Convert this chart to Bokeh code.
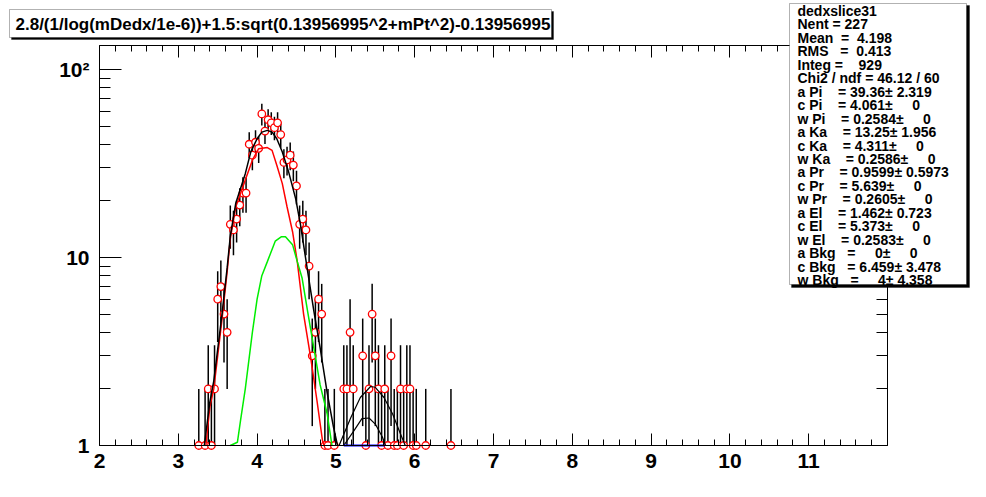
import numpy as np
from bokeh.plotting import figure
from bokeh.models import (FixedTicker, LinearAxis, LogAxis, Label, BoxAnnotation, Range1d)
from bokeh.embed import file_html
from bokeh.resources import INLINE

# ---------------- data ----------------
bin_x = [3.26, 3.34, 3.38, 3.42, 3.46, 3.50, 3.54, 3.58, 3.62, 3.66, 3.70, 3.74, 3.78, 3.82,
         3.86, 3.90, 3.94, 3.98, 4.02, 4.06, 4.10, 4.14, 4.18, 4.22, 4.26, 4.30, 4.34, 4.38,
         4.42, 4.46, 4.50, 4.54, 4.58, 4.62, 4.66, 4.70, 4.74, 4.78, 4.82, 4.86, 4.90, 4.98,
         5.10, 5.14, 5.18, 5.22, 5.34, 5.38, 5.42, 5.46, 5.50, 5.54, 5.58, 5.62, 5.66, 5.70,
         5.74, 5.78, 5.82, 5.86, 5.90, 5.94, 5.98, 6.02, 6.14, 6.46]
counts = [1, 1, 2, 1, 2, 6, 7, 5, 4, 15, 14, 16, 19, 22,
          22, 40, 35, 41, 38, 58, 47, 54, 52, 49, 52, 45, 32, 33,
          35, 31, 24, 15, 16, 14, 9, 3, 4, 6, 5, 1, 1, 1,
          2, 2, 4, 2, 3, 1, 2, 5, 3, 2, 1, 2, 1, 3,
          1, 1, 2, 1, 2, 2, 1, 1, 1, 1]

pion_x = [3.35, 3.40, 3.45, 3.55, 3.62, 3.66, 3.73, 3.85, 3.94, 4.02, 4.13, 4.19, 4.25, 4.32,
          4.38, 4.45, 4.51, 4.59, 4.68, 4.76, 4.83, 4.85]
pion_y = [1.0, 1.6, 2.0, 4.5, 8.4, 12.6, 18.6, 25.8, 32.9, 37.9, 38.4, 37.1, 30.9, 24.7,
          18.6, 13.7, 9.5, 5.0, 2.93, 1.73, 1.06, 1.0]

kaon_x = [3.66, 3.75, 3.79, 3.85, 3.94, 4.00, 4.06, 4.13, 4.23, 4.31, 4.36, 4.45, 4.51, 4.57,
          4.64, 4.72, 4.80, 4.89, 4.95]
kaon_y = [1.0, 1.04, 1.36, 2.0, 4.0, 6.0, 8.0, 9.5, 12.2, 12.9, 12.9, 11.7, 9.5, 7.8,
          5.2, 3.3, 2.1, 1.47, 1.0]

total_x = [3.33, 3.40, 3.45, 3.55, 3.62, 3.66, 3.73, 3.85, 3.92, 4.00, 4.06, 4.13, 4.19, 4.25,
           4.32, 4.40, 4.49, 4.55, 4.64, 4.72, 4.80, 4.89, 4.97, 5.02]
total_y = [1.0, 1.7, 2.2, 4.8, 8.8, 13.0, 19.5, 27.9, 36.4, 42.8, 46.4, 47.4, 46.4, 42.8,
           36.4, 28.5, 20.5, 15.0, 8.5, 5.2, 3.3, 1.9, 1.25, 1.0]

bump_x = [5.04, 5.19, 5.31, 5.44, 5.50, 5.61, 5.72, 5.82, 5.88]
bump_y = [1.0, 1.41, 1.80, 2.06, 2.04, 1.80, 1.47, 1.15, 1.0]

elec_x = [5.10, 5.23, 5.33, 5.42, 5.50, 5.59, 5.63]
elec_y = [1.0, 1.2, 1.39, 1.40, 1.30, 1.11, 1.0]

bkg_x = [5.10, 5.62]
bkg_y = [1.0, 1.0]

x_major = [2, 3, 4, 5, 6, 7, 8, 9, 10, 11]
x_minor = [round(2 + 0.2 * i, 2) for i in range(51)]
y_major = [1, 10, 100]
y_minor = [2, 3, 4, 5, 6, 7, 8, 9, 20, 30, 40, 50, 60, 70, 80, 90]
y_labels = {1: "1", 10: "10", 100: "10\u00b2"}

title_text = "2.8/(1/log(mDedx/1e-6))+1.5:sqrt(0.13956995^2+mPt^2)-0.13956995"
stats_lines = [
    "dedxslice31",
    "Nent = 227",
    "Mean  =  4.198",
    "RMS   =  0.413",
    "Integ =    929",
    "Chi2 / ndf = 46.12 / 60",
    "a Pi    = 39.36\u00b1 2.319",
    "c Pi    = 4.061\u00b1     0",
    "w Pi    = 0.2584\u00b1     0",
    "a Ka    = 13.25\u00b1 1.956",
    "c Ka    = 4.311\u00b1     0",
    "w Ka    = 0.2586\u00b1     0",
    "a Pr    = 0.9599\u00b1 0.5973",
    "c Pr    = 5.639\u00b1     0",
    "w Pr    = 0.2605\u00b1     0",
    "a El    = 1.462\u00b1 0.723",
    "c El    = 5.373\u00b1     0",
    "w El    = 0.2583\u00b1     0",
    "a Bkg   =     0\u00b1     0",
    "c Bkg   = 6.459\u00b1 3.478",
    "w Bkg   =     4\u00b1 4.358",
]

X_LO, X_HI = 2, 12
Y_LO, Y_HI = 1, 134

# ---------------- layout: the frame fills the canvas, axes sit at fixed locations ----
W, H = 986, 497
PL, PR, PT, PB = 99, 887, 45, 445     # plot-box edges in canvas pixels
kx = (PR - PL) / (X_HI - X_LO)
x_start = X_LO - PL / kx
x_end = X_HI + (W - PR) / kx
ky = (PB - PT) / (np.log10(Y_HI) - np.log10(Y_LO))
y_start = 10 ** (np.log10(Y_LO) - (H - PB) / ky)
y_end = 10 ** (np.log10(Y_HI) + PT / ky)

FONT = "Liberation Sans"
p = figure(width=W, height=H, x_range=Range1d(x_start, x_end), y_range=Range1d(y_start, y_end),
           y_axis_type="log", output_backend="svg", toolbar_location=None,
           min_border=0, min_border_left=0, min_border_right=0, min_border_top=0,
           min_border_bottom=0, background_fill_color="white", border_fill_color="white")
p.title.visible = False
p.grid.visible = False
p.outline_line_color = None

xt = FixedTicker(ticks=x_major, minor_ticks=x_minor)
yt = FixedTicker(ticks=y_major, minor_ticks=y_minor)

for ax in p.xaxis:
    ax.ticker = xt
    ax.fixed_location = Y_LO
    ax.bounds = (X_LO, X_HI)
    ax.major_tick_in = 12
    ax.major_tick_out = 0
    ax.minor_tick_in = 6
    ax.minor_tick_out = 0
    ax.axis_line_color = "black"
    ax.major_label_text_font = FONT
    ax.major_label_text_font_style = "bold"
    ax.major_label_text_font_size = "21px"
    ax.major_label_text_color = "black"
    ax.major_label_standoff = 8

for ax in p.yaxis:
    ax.ticker = yt
    ax.fixed_location = X_LO
    ax.bounds = (Y_LO, Y_HI)
    ax.major_label_overrides = y_labels
    ax.major_tick_in = 22
    ax.major_tick_out = 0
    ax.minor_tick_in = 11
    ax.minor_tick_out = 0
    ax.axis_line_color = "black"
    ax.major_label_text_font = FONT
    ax.major_label_text_font_style = "bold"
    ax.major_label_text_font_size = "21px"
    ax.major_label_text_color = "black"
    ax.major_label_standoff = 10

top_ax = LinearAxis(ticker=xt, fixed_location=Y_HI, bounds=(X_LO, X_HI),
                    major_tick_in=12, major_tick_out=0, minor_tick_in=6,
                    minor_tick_out=0, major_label_text_font_size="8px",
                    major_label_text_color=None, axis_line_color="black")
right_ax = LogAxis(ticker=yt, fixed_location=X_HI, bounds=(Y_LO, Y_HI),
                   major_tick_in=22, major_tick_out=0, minor_tick_in=11,
                   minor_tick_out=0, major_label_text_font_size="8px",
                   major_label_text_color=None, axis_line_color="black")
p.add_layout(top_ax, "above")
p.add_layout(right_ax, "right")

# ---------------- histogram ----------------
cx = np.array(bin_x)
cy = np.array(counts, dtype=float)
err = np.sqrt(cy)
lo = np.maximum(cy - err, Y_LO)
hi = cy + err
p.segment(x0=cx, y0=lo, x1=cx, y1=hi, line_color="black", line_width=1.5)
p.scatter(cx, cy, marker="circle", size=7.5, fill_color="white", line_color="red",
          line_width=1.3)

# ---------------- fit curves ----------------
p.line(pion_x, pion_y, line_color="red", line_width=1.5)
p.line(kaon_x, kaon_y, line_color="#00ee00", line_width=1.5)
p.line(total_x, total_y, line_color="black", line_width=1.5)
p.line(bump_x, bump_y, line_color="black", line_width=1.2)
p.line(elec_x, elec_y, line_color="black", line_width=1.2)
p.line(bkg_x, bkg_y, line_color="blue", line_width=2)


# ---------------- boxes (canvas pixel -> screen units of the full-canvas frame) --------
def sx(px):
    return px


def sy(py):
    return H - py


def box(l, t, r, b, fill, line):
    p.add_layout(BoxAnnotation(left=sx(l), right=sx(r), top=sy(t), bottom=sy(b),
                               left_units="screen", right_units="screen",
                               top_units="screen", bottom_units="screen",
                               fill_color=fill, fill_alpha=1.0,
                               line_color=line, line_width=1))


# title box with shadow
box(11, 11, 553, 39, "black", "black")
box(9, 9, 551, 37, "white", "black")
p.add_layout(Label(x=sx(15), y=sy(23.5), x_units="screen", y_units="screen",
                   text=title_text, text_font=FONT, text_font_style="bold",
                   text_color="black", text_font_size="17px",
                   text_baseline="middle", text_align="left"))

# stats box with shadow
box(791, 5, 969, 287, "black", "black")
box(789, 3, 966, 284, "white", "black")
y0, dy = 10.5, 13.45
for i, line in enumerate(stats_lines):
    p.add_layout(Label(x=sx(797), y=sy(y0 + i * dy), x_units="screen", y_units="screen",
                       text=line.replace(" ", "\u00a0"), text_font=FONT,
                       text_font_style="bold", text_color="black", text_font_size="14px",
                       text_baseline="middle", text_align="left"))

open("out.html", "w").write(file_html(p, INLINE))
